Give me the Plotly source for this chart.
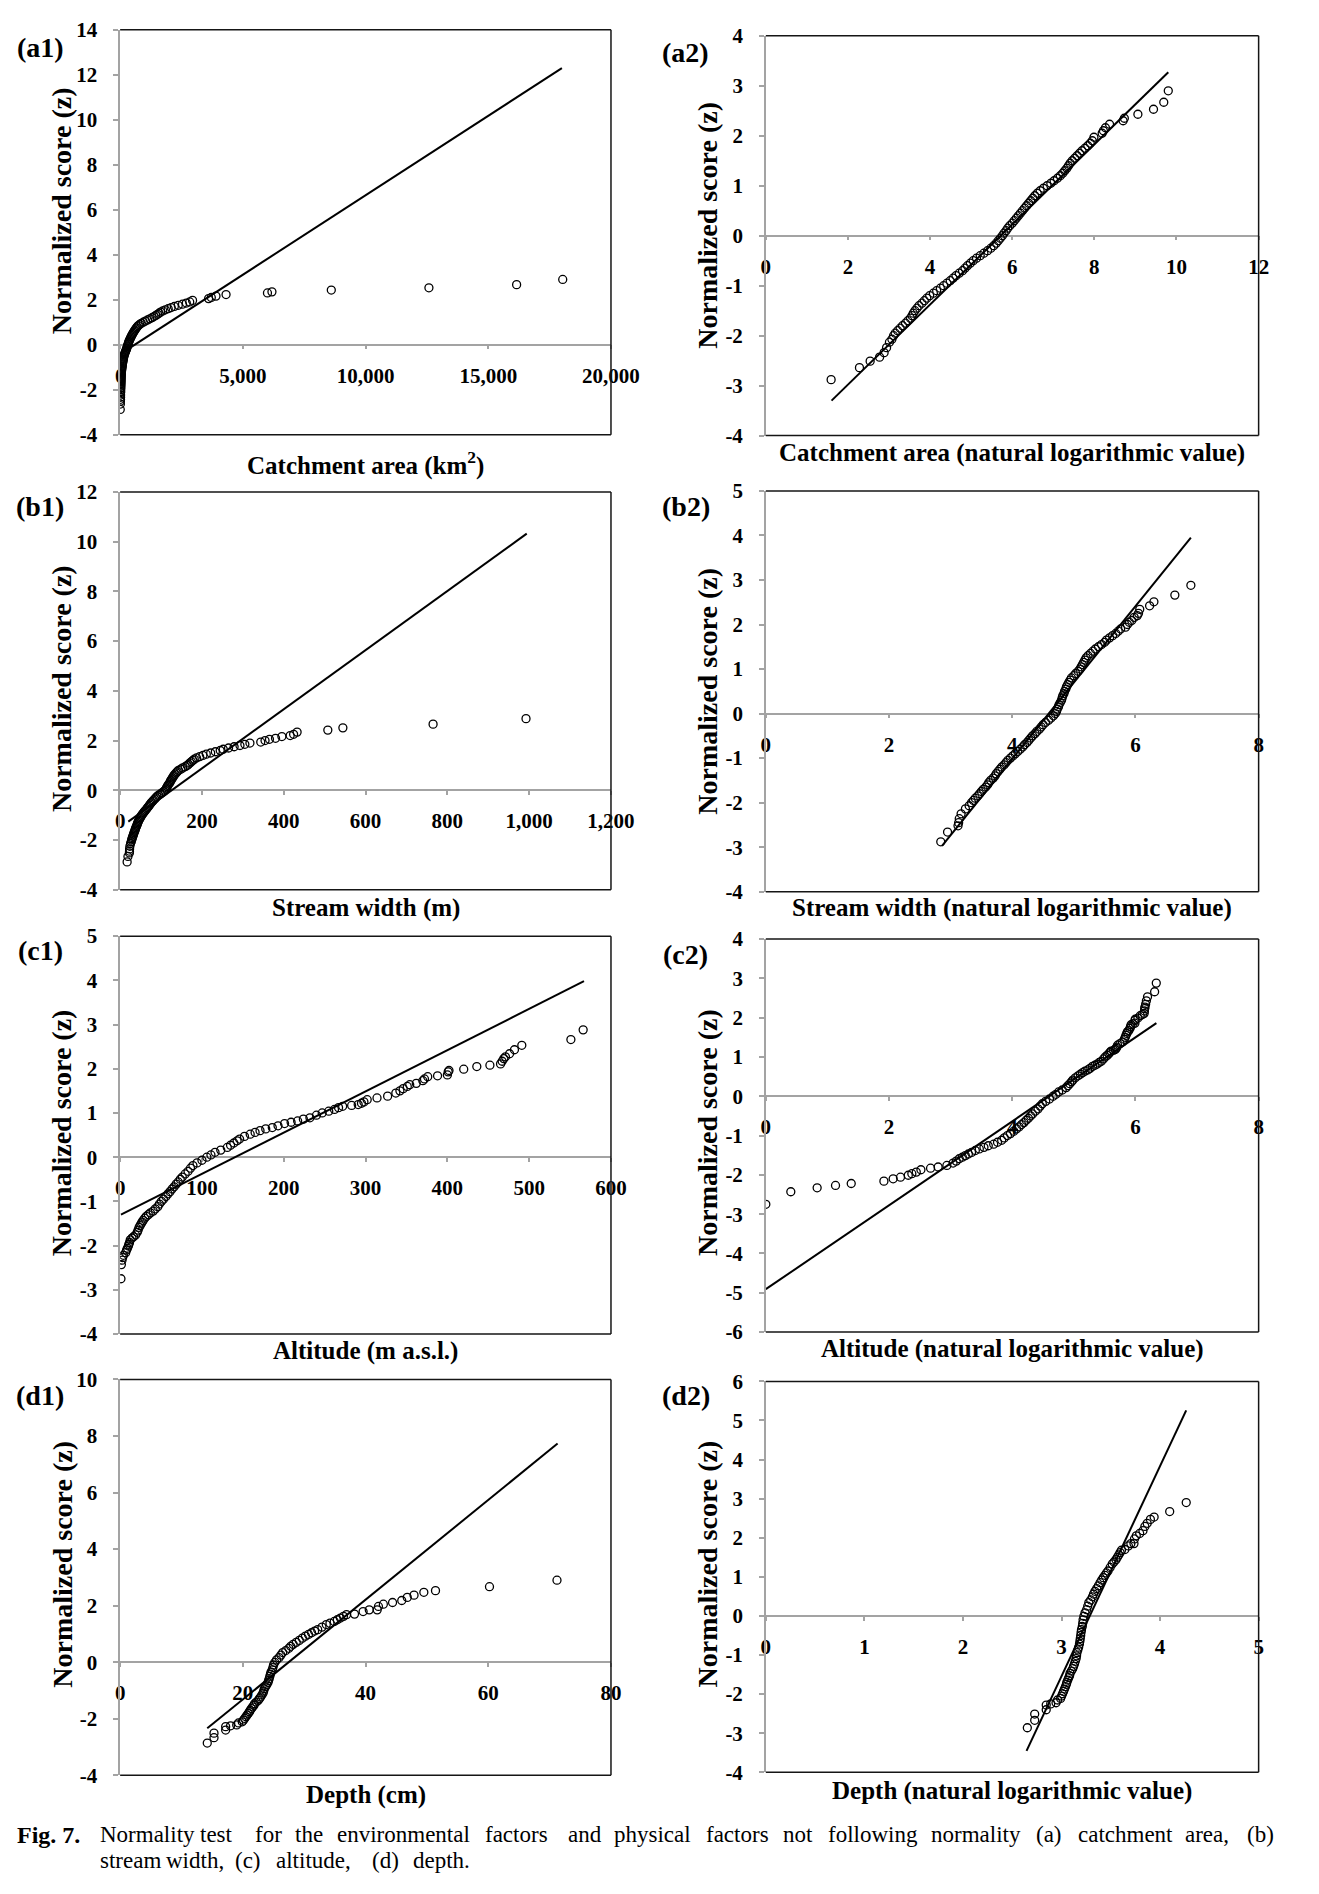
import numpy as np
import plotly.graph_objects as go

# page is 1319 x 1894; the browser keeps its default 8 px body margin,
# so the figure itself is 16 px smaller and every position is shifted by 8 px
W, H = 1319, 1894
OFF = 8
FW, FH = W - 2 * OFF, H - 2 * OFF
SERIF = "Liberation Serif, Times New Roman, serif"

# ---------------- data ----------------
# (a) catchment area: normalized score and ln(km2) (a2)
catch_z = [-2.88, -2.64, -2.51, -2.43, -2.34, -2.24, -2.13, -2.07,
           -2.00, -1.95, -1.90, -1.85, -1.80, -1.75, -1.70, -1.65, -1.60, -1.55,
           -1.50, -1.45, -1.40, -1.35, -1.30, -1.25, -1.20, -1.15, -1.10, -1.05,
           -1.00, -0.95, -0.90, -0.85, -0.80, -0.75, -0.70, -0.65, -0.60, -0.55,
           -0.50, -0.45, -0.40, -0.35, -0.30, -0.25, -0.20, -0.15, -0.10, -0.05,
           0.00, 0.05, 0.10, 0.15, 0.20, 0.25, 0.30, 0.35, 0.40, 0.45,
           0.50, 0.55, 0.60, 0.65, 0.70, 0.75, 0.80, 0.85, 0.90, 0.95,
           1.00, 1.05, 1.10, 1.15, 1.20, 1.25, 1.30, 1.35, 1.40, 1.45,
           1.50, 1.55, 1.60, 1.65, 1.70, 1.75, 1.80, 1.85, 1.90, 1.97,
           2.05, 2.10, 2.16, 2.23, 2.30, 2.35, 2.43, 2.53, 2.67, 2.90]
catch_ln = [1.59, 2.28, 2.54, 2.77, 2.88, 2.94, 3.01, 3.07,
            3.11, 3.15, 3.21, 3.27, 3.33, 3.40, 3.46, 3.52, 3.56, 3.59,
            3.63, 3.68, 3.73, 3.80, 3.86, 3.92, 3.99, 4.08, 4.16, 4.25,
            4.33, 4.41, 4.49, 4.56, 4.63, 4.71, 4.79, 4.85, 4.91, 4.98,
            5.05, 5.13, 5.22, 5.31, 5.40, 5.48, 5.55, 5.61, 5.66, 5.71,
            5.76, 5.80, 5.85, 5.89, 5.94, 6.00, 6.05, 6.10, 6.15, 6.20,
            6.25, 6.30, 6.35, 6.40, 6.45, 6.50, 6.55, 6.61, 6.68, 6.76,
            6.85, 6.94, 7.02, 7.10, 7.17, 7.23, 7.28, 7.33, 7.37, 7.41,
            7.46, 7.52, 7.58, 7.64, 7.70, 7.77, 7.84, 7.90, 7.95, 7.99,
            8.19, 8.22, 8.27, 8.37, 8.70, 8.73, 9.06, 9.44, 9.69, 9.80]

# (b) stream width: normalized score and ln(m), read from (b2) / (b1)
width_z = [-2.88, -2.66, -2.52, -2.45, -2.36, -2.25, -2.14, -2.07,
           -2.00, -1.95, -1.90, -1.85, -1.80, -1.75, -1.70, -1.65, -1.60, -1.55,
           -1.50, -1.45, -1.40, -1.35, -1.30, -1.25, -1.20, -1.15, -1.10, -1.05,
           -1.00, -0.95, -0.90, -0.85, -0.80, -0.75, -0.70, -0.65, -0.60, -0.55,
           -0.50, -0.45, -0.40, -0.35, -0.30, -0.25, -0.20, -0.15, -0.10, -0.05,
           0.00, 0.05, 0.10, 0.15, 0.20, 0.25, 0.30, 0.35, 0.40, 0.45,
           0.50, 0.55, 0.60, 0.65, 0.70, 0.75, 0.80, 0.85, 0.90, 0.95,
           1.00, 1.05, 1.10, 1.15, 1.20, 1.25, 1.30, 1.35, 1.40, 1.45,
           1.50, 1.55, 1.60, 1.65, 1.70, 1.75, 1.80, 1.85, 1.90, 1.94,
           2.00, 2.05, 2.09, 2.16, 2.20, 2.25, 2.34, 2.42, 2.51, 2.66, 2.88]
width_ln = [2.84, 2.95, 3.12, 3.13, 3.14, 3.17, 3.24, 3.30,
            3.34, 3.37, 3.40, 3.44, 3.47, 3.50, 3.53, 3.57, 3.60, 3.62,
            3.65, 3.69, 3.72, 3.74, 3.77, 3.80, 3.83, 3.87, 3.90, 3.93,
            3.97, 4.01, 4.05, 4.09, 4.13, 4.17, 4.20, 4.24, 4.27, 4.30,
            4.33, 4.37, 4.40, 4.44, 4.47, 4.50, 4.54, 4.59, 4.63, 4.67,
            4.70, 4.72, 4.73, 4.75, 4.76, 4.78, 4.80, 4.81, 4.82, 4.84,
            4.85, 4.87, 4.88, 4.90, 4.92, 4.94, 4.96, 5.00, 5.03, 5.07,
            5.10, 5.12, 5.14, 5.16, 5.18, 5.20, 5.23, 5.27, 5.31, 5.35,
            5.40, 5.45, 5.50, 5.53, 5.58, 5.63, 5.68, 5.72, 5.76, 5.84,
            5.87, 5.90, 5.94, 5.98, 6.03, 6.05, 6.07, 6.23, 6.30, 6.64, 6.90]

# (c) altitude: normalized score and altitude (m a.s.l.), read from (c1) / (c2)
alt_z = [-2.75, -2.43, -2.33, -2.27, -2.22, -2.16, -2.10, -2.06,
         -2.01, -1.97, -1.93, -1.87, -1.83, -1.80, -1.76, -1.70, -1.65, -1.59,
         -1.55, -1.51, -1.47, -1.43, -1.38, -1.34, -1.30, -1.26, -1.22, -1.17,
         -1.12, -1.06, -1.00, -0.95, -0.89, -0.83, -0.78, -0.72, -0.67, -0.61,
         -0.56, -0.50, -0.45, -0.38, -0.32, -0.25, -0.19, -0.13, -0.07, 0.00,
         0.05, 0.11, 0.16, 0.22, 0.27, 0.32, 0.37, 0.41, 0.47, 0.52,
         0.56, 0.60, 0.64, 0.67, 0.71, 0.76, 0.79, 0.82, 0.86, 0.89,
         0.95, 1.00, 1.04, 1.08, 1.12, 1.15, 1.17, 1.19, 1.22, 1.25,
         1.30, 1.34, 1.38, 1.45, 1.50, 1.55, 1.60, 1.64, 1.67, 1.73,
         1.77, 1.82, 1.84, 1.86, 1.93, 1.96, 1.99, 2.05, 2.08, 2.11,
         2.17, 2.23, 2.27, 2.34, 2.43, 2.53, 2.66, 2.88]
alt_m = [1.0, 1.5, 2.3, 3.1, 4.0, 6.8, 7.9, 8.9,
         10.1, 10.7, 11.5, 12.4, 14.5, 16.4, 18.9, 20.9, 22.0, 23.1,
         24.3, 25.5, 26.8, 28.2, 30.0, 32.0, 34.5, 37.0, 40.4, 43.0,
         46.0, 48.0, 50.5, 53.0, 56.0, 58.5, 61.0, 63.5, 66.0, 68.5,
         71.0, 73.5, 76.0, 79.5, 83.0, 86.0, 89.0, 94.0, 100.0, 106.0,
         111.0, 116.0, 123.0, 131.0, 135.0, 139.0, 143.0, 146.0, 152.0, 159.0,
         165.0, 171.0, 178.0, 186.0, 193.0, 201.0, 209.0, 217.0, 224.0, 232.0,
         240.0, 247.0, 255.0, 262.0, 267.0, 272.0, 283.0, 291.0, 295.0, 298.0,
         302.0, 314.0, 327.0, 337.0, 342.0, 346.0, 351.0, 354.0, 362.0, 370.0,
         372.0, 376.0, 388.0, 400.0, 401.0, 402.0, 420.0, 436.0, 452.0, 465.0,
         467.0, 469.0, 471.0, 476.0, 482.0, 491.0, 551.0, 566.0]

# (d) depth: normalized score and depth (cm), read from (d1) / (d2)
depth_z = [-2.86, -2.67, -2.51, -2.40, -2.28, -2.25, -2.22, -2.15, -2.11, -2.05,
           -1.99, -1.93, -1.87, -1.81, -1.75, -1.70, -1.64, -1.58, -1.53, -1.47,
           -1.41, -1.35, -1.29, -1.23, -1.16, -1.09, -1.02, -0.94, -0.87, -0.80,
           -0.72, -0.65, -0.58, -0.50, -0.42, -0.35, -0.27, -0.19, -0.10, -0.01,
           0.08, 0.16, 0.25, 0.34, 0.41, 0.49, 0.56, 0.63, 0.70, 0.77,
           0.85, 0.92, 0.98, 1.04, 1.10, 1.15, 1.24, 1.33, 1.38, 1.44,
           1.50, 1.56, 1.62, 1.68, 1.70, 1.79, 1.85, 1.85, 1.97, 2.05,
           2.11, 2.18, 2.29, 2.37, 2.47, 2.53, 2.67, 2.90]
depth_cm = [14.2, 15.3, 15.3, 17.2, 17.2, 18.0, 19.0, 19.3, 19.9, 20.1,
            20.3, 20.5, 20.7, 20.9, 21.1, 21.2, 21.4, 21.6, 21.8, 21.9,
            22.2, 22.5, 22.7, 22.9, 23.1, 23.3, 23.4, 23.5, 23.7, 23.9,
            24.1, 24.2, 24.3, 24.4, 24.5, 24.6, 24.8, 24.9, 25.0, 25.2,
            25.5, 25.9, 26.2, 26.5, 27.0, 27.5, 27.8, 28.2, 28.7, 29.2,
            29.7, 30.2, 30.7, 31.2, 31.7, 32.2, 32.9, 33.6, 34.2, 34.9,
            35.4, 35.9, 36.4, 36.9, 38.2, 39.6, 40.6, 41.9, 42.1, 42.9,
            44.4, 45.9, 46.8, 47.9, 49.5, 51.4, 60.2, 71.2]

# reference (normal) lines: end points
line_a1_x, line_a1_z = [5, 18000], [-0.42, 12.3]
line_a2_x, line_a2_z = [1.6, 9.8], [-3.3, 3.27]
line_b1_x, line_b1_z = [20, 994], [-1.26, 10.32]
line_b2_x, line_b2_z = [2.86, 6.90], [-2.97, 3.95]
line_c1_x, line_c1_z = [1, 567], [-1.30, 3.98]
line_c2_x, line_c2_z = [0, 6.34], [-4.91, 1.86]
line_d1_x, line_d1_z = [14.2, 71.3], [-2.34, 7.73]
line_d2_x, line_d2_z = [2.645, 4.265], [-3.45, 5.26]

# caption words (justified in the original), with their left edges in px
caption_1 = ["Normality", "test", "for", "the", "environmental", "factors", "and",
             "physical", "factors", "not", "following", "normality", "(a)",
             "catchment", "area,", "(b)"]
caption_1_x = [95, 198, 254, 296, 339, 491, 576, 623, 718, 797, 843, 949, 1056,
               1099, 1209, 1273]
caption_2 = ["stream", "width,", "(c)", "altitude,", "(d)", "depth."]
caption_2_x = [95, 163, 234, 276, 375, 417]

panels = [
    dict(lab="(a1)", x=np.exp(catch_ln), z=catch_z, lx=line_a1_x, lz=line_a1_z,
         xr=[0, 20000], xd=5000, yr=[-4, 14], yd=2, box=(118, 18, 622, 428),
         title="Catchment area (km<sup>2</sup>)", ty=457, ly=36, yty=201),
    dict(lab="(a2)", x=catch_ln, z=catch_z, lx=line_a2_x, lz=line_a2_z,
         xr=[0, 12], xd=2, yr=[-4, 4], yd=1, box=(781, 24, 1287, 429),
         title="Catchment area (natural logarithmic value)", ty=447, ly=41, yty=216),
    dict(lab="(b1)", x=np.exp(width_ln), z=width_z, lx=line_b1_x, lz=line_b1_z,
         xr=[0, 1200], xd=200, yr=[-4, 12], yd=2, box=(118, 486, 622, 889),
         title="Stream width (m)", ty=908, ly=501, yty=685),
    dict(lab="(b2)", x=width_ln, z=width_z, lx=line_b2_x, lz=line_b2_z,
         xr=[0, 8], xd=2, yr=[-4, 5], yd=1, box=(781, 485, 1287, 891),
         title="Stream width (natural logarithmic value)", ty=908, ly=501, yty=688),
    dict(lab="(c1)", x=alt_m, z=alt_z, lx=line_c1_x, lz=line_c1_z,
         xr=[0, 600], xd=100, yr=[-4, 5], yd=1, box=(118, 936, 622, 1339),
         title="Altitude (m a.s.l.)", ty=1356, ly=951, yty=1135),
    dict(lab="(c2)", x=np.log(alt_m), z=alt_z, lx=line_c2_x, lz=line_c2_z,
         xr=[0, 8], xd=2, yr=[-6, 4], yd=1, box=(781, 939, 1287, 1337),
         title="Altitude (natural logarithmic value)", ty=1354, ly=955, yty=1135),
    dict(lab="(d1)", x=depth_cm, z=depth_z, lx=line_d1_x, lz=line_d1_z,
         xr=[0, 80], xd=20, yr=[-4, 10], yd=2, box=(118, 1385, 622, 1786),
         title="Depth (cm)", ty=1806, ly=1401, yty=1572),
    dict(lab="(d2)", x=np.log(depth_cm), z=depth_z, lx=line_d2_x, lz=line_d2_z,
         xr=[0, 5], xd=1, yr=[-4, 6], yd=1, box=(781, 1387, 1287, 1783),
         title="Depth (natural logarithmic value)", ty=1802, ly=1401, yty=1572),
]

GREY = "#a3a3a3"
TICKFONT = dict(family=SERIF, size=21, color="black")
fig = go.Figure()
shapes, annos = [], []
layout = {}


def px_to_paper(x, y):
    # page pixel -> paper fraction of the (margin-shifted) figure
    return (x - OFF) / FW, 1 - (y - OFF) / FH


def tick_labels(vals):
    return [f"<b>{v:,}</b>" for v in vals]


for i, p in enumerate(panels, start=1):
    sx = "" if i == 1 else str(i)
    l, t, r, b = p["box"]
    x0f, y1f = px_to_paper(l, t)
    x1f, y0f = px_to_paper(r, b)
    y0, y1 = p["yr"]
    zero_pos = y0f + (0 - y0) / (y1 - y0) * (y1f - y0f)
    yvals = list(range(y0, y1 + 1, p["yd"]))
    xvals = list(range(p["xr"][0], p["xr"][1] + 1, p["xd"]))

    fig.add_trace(go.Scatter(
        x=p["x"], y=p["z"], mode="markers",
        marker=dict(symbol="circle-open", size=8, color="black", line=dict(width=1.3)),
        xaxis="x" + sx, yaxis="y" + sx, showlegend=False, hoverinfo="skip"))
    fig.add_trace(go.Scatter(
        x=p["lx"], y=p["lz"], mode="lines",
        line=dict(color="black", width=2),
        xaxis="x" + sx, yaxis="y" + sx, showlegend=False, hoverinfo="skip"))

    layout["xaxis" + sx] = dict(
        domain=[x0f, x1f], range=p["xr"], tickmode="array", tickvals=xvals,
        ticktext=tick_labels(xvals), anchor="free", position=zero_pos,
        showline=True, linecolor=GREY, linewidth=1.5, ticks="outside", ticklen=4,
        tickcolor=GREY, tickwidth=1.5, showgrid=False, zeroline=False,
        layer="below traces", ticklabelstandoff=8, tickfont=TICKFONT)
    layout["yaxis" + sx] = dict(
        domain=[y0f, y1f], range=p["yr"], tickmode="array", tickvals=yvals,
        ticktext=tick_labels(yvals), anchor="x" + sx,
        showline=True, linecolor=GREY, linewidth=1.5, ticks="outside", ticklen=5,
        tickcolor=GREY, tickwidth=1.5, showgrid=False, zeroline=False,
        ticklabelstandoff=12, tickfont=TICKFONT)

    # top, right and bottom frame lines in black
    for (xa, ya, xb, yb) in [(0, 1, 1, 1), (1, 0, 1, 1), (0, 0, 1, 0)]:
        shapes.append(dict(type="line", xref=f"x{sx} domain", yref=f"y{sx} domain",
                           x0=xa, y0=ya, x1=xb, y1=yb,
                           line=dict(color="#151515", width=1.5)))

    ax, ay = px_to_paper((l + r) / 2, p["ty"])
    annos.append(dict(text=f"<b>{p['title']}</b>", x=ax, y=ay,
                      xref="paper", yref="paper", showarrow=False,
                      xanchor="center", yanchor="middle",
                      font=dict(family=SERIF, size=25, color="black")))
    ax, ay = px_to_paper(l - 60, p["yty"])
    annos.append(dict(text="<b>Normalized score (z)</b>", x=ax, y=ay,
                      xref="paper", yref="paper", showarrow=False, textangle=-90,
                      xanchor="center", yanchor="middle",
                      font=dict(family=SERIF, size=28, color="black")))
    ax, ay = px_to_paper(l - 82, p["ly"])
    annos.append(dict(text=f"<b>{p['lab']}</b>", x=ax, y=ay,
                      xref="paper", yref="paper", showarrow=False,
                      xanchor="center", yanchor="middle",
                      font=dict(family=SERIF, size=28, color="black")))

# caption, word by word to keep the justified look
cap_font = dict(family=SERIF, size=23, color="black")
ax, ay = px_to_paper(10, 1846)
annos.append(dict(text="<b>Fig. 7.</b>", x=ax, y=ay, xref="paper", yref="paper",
                  showarrow=False, xanchor="left", yanchor="middle",
                  font=dict(family=SERIF, size=24, color="black")))
for words, xs, ypx in [(caption_1, caption_1_x, 1846), (caption_2, caption_2_x, 1872)]:
    for word, xpx in zip(words, xs):
        ax, ay = px_to_paper(xpx, ypx)
        annos.append(dict(text=word, x=ax, y=ay, xref="paper", yref="paper",
                          showarrow=False, xanchor="left", yanchor="middle",
                          font=cap_font))

fig.update_layout(
    width=FW, height=FH, margin=dict(l=0, r=0, t=0, b=0),
    paper_bgcolor="white", plot_bgcolor="white",
    shapes=shapes, annotations=annos, **layout)

fig.write_html("out.html", config={"displayModeBar": False})
